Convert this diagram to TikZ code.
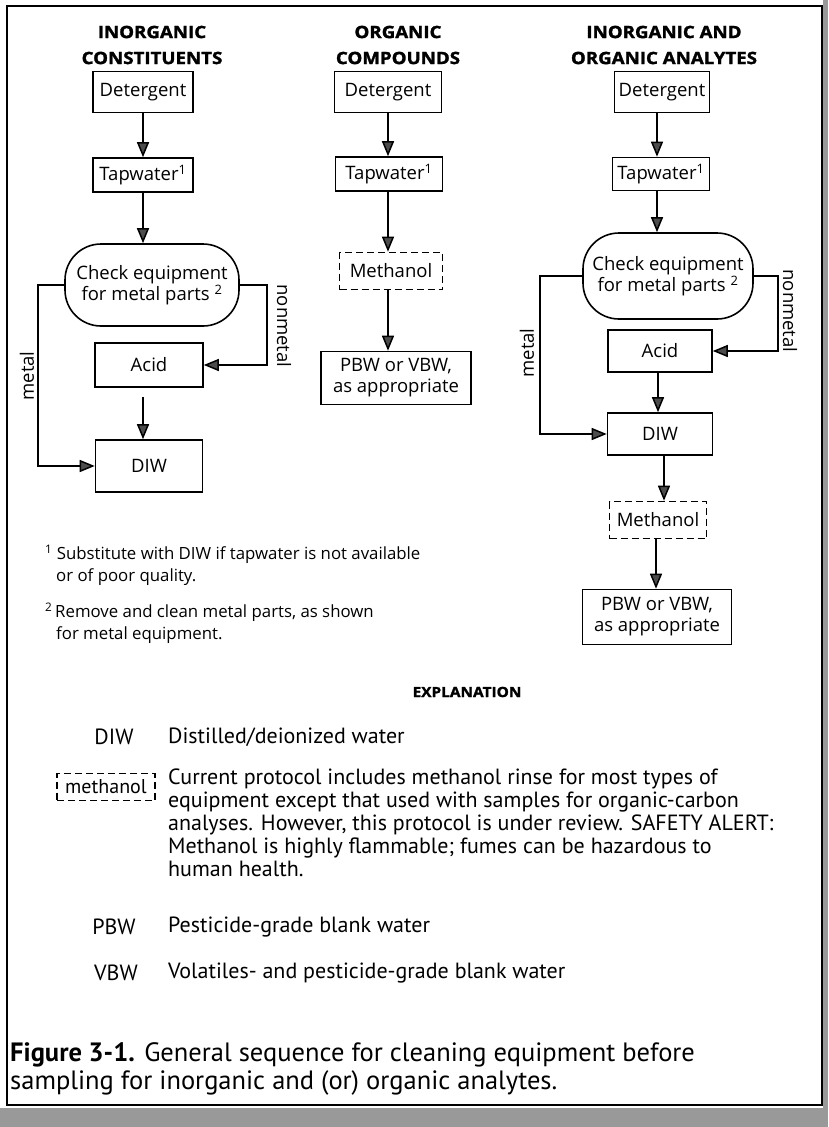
\documentclass[tikz,border=0pt]{standalone}
\usepackage{fontspec}
\setmainfont{Open Sans}
\newfontfamily\headfont{Open Sans}[FakeStretch=1.1, FakeBold=1.6]
\newfontfamily\condfont{PT Sans}
\usetikzlibrary{arrows.meta}

\begin{document}
\begin{tikzpicture}[x=1pt,y=-1pt,
  every node/.style={font=\fontsize{18.5}{21}\selectfont},
  stepbox/.style={draw, line width=1.6pt, inner sep=2pt, align=center},
  dashbox/.style={stepbox, dash pattern=on 7pt off 4pt},
  pillbox/.style={draw, line width=1.6pt, rounded corners=36pt, align=center, inner sep=2pt},
  colhead/.style={font=\headfont\bfseries\fontsize{17}{26}\selectfont, align=center},
  flow/.style={line width=1.5pt, -{Triangle[length=15pt,width=12pt,fill=black!70]}},
  lab/.style={inner sep=0pt},
  note/.style={anchor=west, inner sep=0pt, font=\fontsize{16.8}{19}\selectfont},
  expl/.style={anchor=west, inner sep=0pt, font=\condfont\fontsize{22}{23}\selectfont},
]
\useasboundingbox (0,0) rectangle (828,1127);

% scanner edge strips and frame
\fill[black!40] (823,0) rectangle (828,1127);
\fill[black!40] (0,1108) rectangle (828,1127);
\draw[line width=1.6pt] (7,6) rectangle (822,1105);

% column headings
\node[colhead] (h1) at (152,45) {INORGANIC\\CONSTITUENTS};
\node[colhead] (h2) at (398,45) {ORGANIC\\COMPOUNDS};
\node[colhead] (h3) at (664,45) {INORGANIC AND\\ORGANIC ANALYTES};

% inorganic constituents
\node[stepbox, minimum width=100pt, minimum height=41pt] (det1) at (143,92) {Detergent};
\node[stepbox, minimum width=100pt, minimum height=34pt] (tap1) at (143,175) {Tapwater\textsuperscript{1}};
\node[pillbox, minimum width=174pt, minimum height=82pt] (pill1) at (152,285) {Check equipment\\for metal parts \textsuperscript{2}};
\node[stepbox, minimum width=108pt, minimum height=44pt] (acid1) at (149,365) {Acid};
\node[stepbox, minimum width=107pt, minimum height=52pt] (diw1) at (149,466) {DIW};

\draw[flow] (det1.south) -- (tap1.north);
\draw[flow] (tap1.south) -- (tap1.south |- pill1.north);
\draw[flow, shorten <=9pt] ([xshift=-6pt]acid1.south) -- ([xshift=-6pt]acid1.south |- diw1.north);
\coordinate (m1) at (38,285);
\coordinate (n1) at (267,285);
\draw[flow] (pill1.west) -- (m1) |- (diw1.west);
\draw[flow] (pill1.east) -- (n1) |- (acid1.east);
\node[lab, rotate=90] (ml1) at (27,376) {metal};
\node[lab, rotate=-90] (nl1) at (284,326) {nonmetal};

% organic compounds
\node[stepbox, minimum width=107pt, minimum height=41pt] (det2) at (388,92) {Detergent};
\node[stepbox, minimum width=107pt, minimum height=34pt] (tap2) at (389,174) {Tapwater\textsuperscript{1}};
\node[dashbox, minimum width=103pt, minimum height=37pt] (meth2) at (391,271) {Methanol};
\node[stepbox, minimum width=150pt, minimum height=53pt] (pbw2) at (396,378) {PBW or VBW,\\as appropriate};

\draw[flow] (det2.south) -- (det2.south |- tap2.north);
\draw[flow] (det2.south |- tap2.south) -- (det2.south |- meth2.north);
\draw[flow] (det2.south |- meth2.south) -- (det2.south |- pbw2.north);

% inorganic and organic analytes
\node[stepbox, minimum width=95pt, minimum height=41pt] (det3) at (662,92) {Detergent};
\node[stepbox, minimum width=97pt, minimum height=33pt] (tap3) at (661,174) {Tapwater\textsuperscript{1}};
\node[pillbox, minimum width=170pt, minimum height=86pt] (pill3) at (668,276) {Check equipment\\for metal parts \textsuperscript{2}};
\node[stepbox, minimum width=104pt, minimum height=42pt] (acid3) at (660,351) {Acid};
\node[stepbox, minimum width=105pt, minimum height=42pt] (diw3) at (660,434) {DIW};
\node[dashbox, minimum width=97pt, minimum height=37pt] (meth3) at (658,520) {Methanol};
\node[stepbox, minimum width=149pt, minimum height=55pt] (pbw3) at (657,617) {PBW or VBW,\\as appropriate};

\draw[flow] ([xshift=-5pt]det3.south) -- ([xshift=-5pt]det3.south |- tap3.north);
\draw[flow] ([xshift=-5pt]det3.south |- tap3.south) -- ([xshift=-5pt]det3.south |- pill3.north);
\draw[flow] ([xshift=-2pt]acid3.south) -- ([xshift=-2pt]acid3.south |- diw3.north);
\draw[flow] ([xshift=4pt]diw3.south) -- ([xshift=4pt]diw3.south |- meth3.north);
\draw[flow] ([xshift=-2pt]meth3.south) -- ([xshift=-2pt]meth3.south |- pbw3.north);
\coordinate (m3) at (540,276);
\coordinate (n3) at (778,276);
\draw[flow] (pill3.west) -- (m3) |- (diw3.west);
\draw[flow] (pill3.east) -- (n3) |- (acid3.east);
\node[lab, rotate=90] (ml3) at (527,353) {metal};
\node[lab, rotate=-90] (nl3) at (790,311) {nonmetal};

% footnotes
\node[note] (fn1a) at (45,554) {\textsuperscript{1} Substitute with DIW if tapwater is not available};
\node[note] (fn1b) at (56,577) {or of poor quality.};
\node[note] (fn2a) at (45,612) {\textsuperscript{2}\,Remove and clean metal parts, as shown};
\node[note] (fn2b) at (56,635) {for metal equipment.};

% explanation
\node[font=\headfont\bfseries\fontsize{14}{16}\selectfont] (exh) at (467,692) {EXPLANATION};
\node[expl, anchor=center] (k1) at (114,737) {DIW};
\node[expl] (d1) at (168,737) {Distilled/deionized water};
\node[dashbox, font=\condfont\fontsize{20}{22}\selectfont, minimum width=98pt, minimum height=27pt, inner sep=1pt] (k2) at (106,787) {methanol};
\node[expl, anchor=north west, align=left] (d2) at (168,769) {Current protocol includes methanol rinse for most types of\\
equipment except that used with samples for organic-carbon\\
analyses. However, this protocol is under review. SAFETY ALERT:\\
Methanol is highly flammable; fumes can be hazardous to\\
human health.};
\node[expl, anchor=center] (k3) at (114,927) {PBW};
\node[expl] (d3) at (168,927) {Pesticide-grade blank water};
\node[expl, anchor=center] (k4) at (116,973) {VBW};
\node[expl] (d4) at (168,973) {Volatiles- and pesticide-grade blank water};

% caption
\node[anchor=north west, inner sep=0pt, align=left, font=\condfont\fontsize{26.5}{28}\selectfont] (cap) at (10,1042)
  {\textbf{Figure 3-1.} General sequence for cleaning equipment before\\
   sampling for inorganic and (or) organic analytes.};
\end{tikzpicture}
\end{document}
